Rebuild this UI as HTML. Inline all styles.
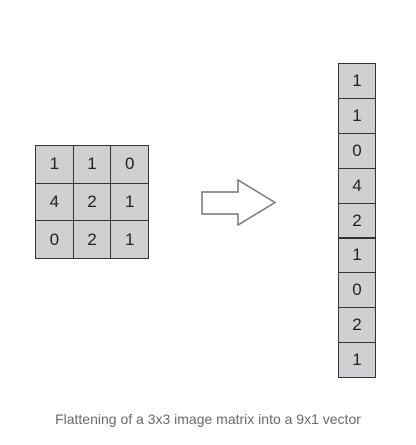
<!DOCTYPE html>
<html><head><meta charset="utf-8"><style>
body{margin:0;width:416px;height:445px;background:#fff;font-family:"Liberation Sans",sans-serif;position:relative;overflow:hidden}
.c{position:absolute;background:#d0cfd1;border:1px solid #333;box-sizing:border-box;display:flex;align-items:center;justify-content:center;font-size:17px;color:#222}
#cap{position:absolute;left:0;width:416px;top:411px;text-align:center;font-size:14px;color:#6a6a6a}
</style></head><body>
<div id="mat"></div>
<svg style="position:absolute;left:0;top:0" width="416" height="445">
<polygon points="202,192 238,192 238,180 275,202.5 238,225 238,214 202,214" fill="#fff" stroke="#777" stroke-width="1.5"/>
</svg>
<div id="vec"></div>
<div id="cap">Flattening of a 3x3 image matrix into a 9x1 vector</div>
<script>
const matrix=[[1,1,0],[4,2,1],[0,2,1]];
const vec=matrix.flat();
const mat=document.getElementById('mat');
matrix.forEach((row,r)=>row.forEach((v,c)=>{
 const d=document.createElement('div');d.className='c';
 
 
 d.style.cssText=`left:${35+c*37.7}px;top:${145+r*37.7}px;width:38.7px;height:38.7px`;
 d.textContent=v;mat.appendChild(d);
}));
const ve=document.getElementById('vec');
vec.forEach((v,i)=>{
 const d=document.createElement('div');d.className='c';
 
 
 d.style.cssText=`left:338px;top:${63+i*34.9}px;width:38px;height:35.9px`;
 d.textContent=v;ve.appendChild(d);
});
</script>
</body></html>
